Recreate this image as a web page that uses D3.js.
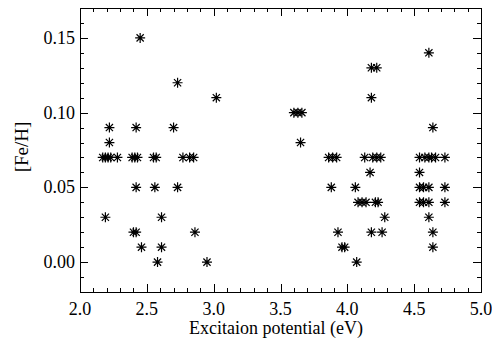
<!DOCTYPE html>
<html>
<head>
<meta charset="utf-8">
<script src="https://cdn.jsdelivr.net/npm/d3@7"></script>
<style>
  body { margin: 0; background: #fff; }
</style>
</head>
<body>
<div id="chart"></div>
<script>
//excitation potential (eV) of each line and its [Fe/H]
let excitation = [
    2.45,
    4.61,
    4.18, 4.22,
    2.73,
    3.02, 4.18,
    3.60, 3.63, 3.66,
    2.22, 2.42, 2.70, 4.64,
    2.22, 3.65,
    2.17, 2.19, 2.21, 2.23, 2.28, 2.39, 2.41, 2.43, 2.55, 2.57, 2.77, 2.82, 2.85,
    3.86, 3.89, 3.92, 4.13, 4.19, 4.22, 4.25, 4.54, 4.58, 4.61, 4.63, 4.66, 4.73,
    4.17, 4.54,
    2.42, 2.56, 2.73, 3.88, 4.06, 4.54, 4.57, 4.61, 4.73,
    4.08, 4.11, 4.14, 4.21, 4.23, 4.54, 4.57, 4.61, 4.73,
    2.19, 2.61, 4.28, 4.61,
    2.40, 2.42, 2.86, 3.93, 4.18, 4.26, 4.64,
    2.46, 2.61, 3.96, 3.98, 4.64,
    2.58, 2.95, 4.07
];
let feh = [
    0.15,
    0.14,
    0.13, 0.13,
    0.12,
    0.11, 0.11,
    0.10, 0.10, 0.10,
    0.09, 0.09, 0.09, 0.09,
    0.08, 0.08,
    0.07, 0.07, 0.07, 0.07, 0.07, 0.07, 0.07, 0.07, 0.07, 0.07, 0.07, 0.07, 0.07,
    0.07, 0.07, 0.07, 0.07, 0.07, 0.07, 0.07, 0.07, 0.07, 0.07, 0.07, 0.07, 0.07,
    0.06, 0.06,
    0.05, 0.05, 0.05, 0.05, 0.05, 0.05, 0.05, 0.05, 0.05,
    0.04, 0.04, 0.04, 0.04, 0.04, 0.04, 0.04, 0.04, 0.04,
    0.03, 0.03, 0.03, 0.03,
    0.02, 0.02, 0.02, 0.02, 0.02, 0.02, 0.02,
    0.01, 0.01, 0.01, 0.01, 0.01,
    0.00, 0.00, 0.00
];

let xTicks = [2.0, 2.5, 3.0, 3.5, 4.0, 4.5, 5.0];
let yTicks = [0.00, 0.05, 0.10, 0.15];

let width = 492, height = 345;
let margin = {left: 80, right: 11, top: 8, bottom: 53};
let FONT = "'Liberation Serif', 'DejaVu Serif', 'Times New Roman', serif";

let svg = d3.select("#chart")
    .append("svg")
    .attr("width", width)
    .attr("height", height);

let x = d3.scaleLinear().domain([2.0, 5.0]).range([margin.left, width - margin.right]);
let y = d3.scaleLinear().domain([-0.02, 0.17]).range([height - margin.bottom, margin.top]);

let x0 = x.range()[0], x1 = x.range()[1];
let y0 = y.range()[0], y1 = y.range()[1];

//minor ticks every 0.1 / 0.01
let xMinor = d3.range(21, 50).map(d => d / 10).filter(d => !xTicks.some(t => Math.abs(t - d) < 1e-9));
let yMinor = d3.range(-1, 17).map(d => d / 100).filter(d => !yTicks.some(t => Math.abs(t - d) < 1e-9));

let ticks = svg.append("g").attr("stroke", "#000").attr("stroke-width", 1);

function vTicks(vals, len) {
    vals.forEach(function(v) {
        let px = Math.round(x(v)) + 0.5;
        ticks.append("line").attr("x1", px).attr("x2", px).attr("y1", y0).attr("y2", y0 - len);
        ticks.append("line").attr("x1", px).attr("x2", px).attr("y1", y1).attr("y2", y1 + len);
    });
}
function hTicks(vals, len) {
    vals.forEach(function(v) {
        let py = Math.round(y(v)) + 0.5;
        ticks.append("line").attr("y1", py).attr("y2", py).attr("x1", x0).attr("x2", x0 + len);
        ticks.append("line").attr("y1", py).attr("y2", py).attr("x1", x1).attr("x2", x1 - len);
    });
}
vTicks(xTicks, 8);
vTicks(xMinor, 4);
hTicks(yTicks, 8);
hTicks(yMinor, 4);

//frame
svg.append("rect")
    .attr("x", x0 + 0.5)
    .attr("y", y1 + 0.5)
    .attr("width", x1 - x0)
    .attr("height", y0 - y1)
    .attr("fill", "none")
    .attr("stroke", "#000")
    .attr("stroke-width", 1);

//tick labels
svg.append("g").selectAll("text").data(xTicks).enter()
    .append("text")
    .attr("x", d => x(d))
    .attr("y", 315)
    .attr("text-anchor", "middle")
    .style("font-family", FONT)
    .style("font-size", "18px")
    .text(d => d.toFixed(1));

svg.append("g").selectAll("text").data(yTicks).enter()
    .append("text")
    .attr("x", x0 - 5)
    .attr("y", d => y(d) + 6)
    .attr("text-anchor", "end")
    .style("font-family", FONT)
    .style("font-size", "18px")
    .text(d => d.toFixed(2));

//axis titles
svg.append("text")
    .attr("x", 276)
    .attr("y", 334)
    .attr("text-anchor", "middle")
    .style("font-family", FONT)
    .style("font-size", "18px")
    .text("Excitaion potential (eV)");

svg.append("text")
    .attr("transform", "translate(28,147) rotate(-90)")
    .attr("text-anchor", "middle")
    .style("font-family", FONT)
    .style("font-size", "19px")
    .text("[Fe/H]");

//asterisk markers
let star = "M-5,0H5M0,-5V5M-3.6,-3.6L3.6,3.6M-3.6,3.6L3.6,-3.6";

svg.append("g").selectAll("path").data(d3.range(excitation.length)).enter()
    .append("path")
    .attr("d", star)
    .attr("transform", i => `translate(${x(excitation[i])},${y(feh[i])})`)
    .attr("fill", "none")
    .attr("stroke", "#000")
    .attr("stroke-width", 1.2);
</script>
</body>
</html>
